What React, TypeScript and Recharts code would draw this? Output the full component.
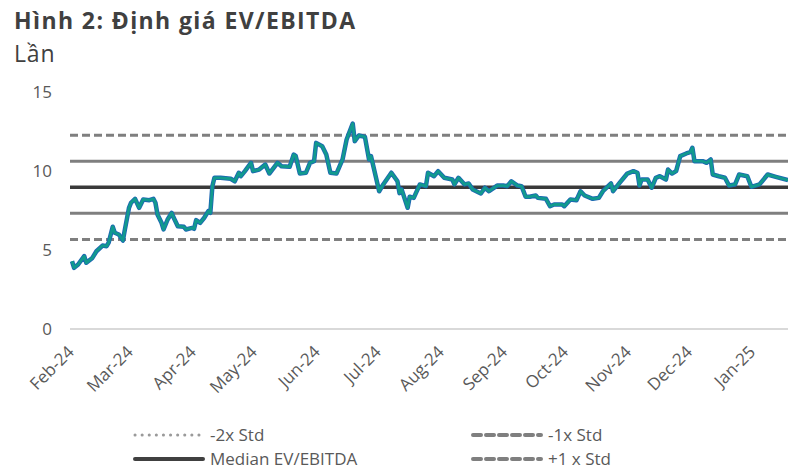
import { LineChart, Line, XAxis, YAxis, ReferenceLine } from "recharts";

const monthLabels = ["Feb-24", "Mar-24", "Apr-24", "May-24", "Jun-24", "Jul-24", "Aug-24", "Sep-24", "Oct-24", "Nov-24", "Dec-24", "Jan-25"];
const monthStarts = ["2024-02-01", "2024-03-01", "2024-04-01", "2024-05-01", "2024-06-01", "2024-07-01", "2024-08-01", "2024-09-01", "2024-10-01", "2024-11-01", "2024-12-01", "2025-01-01"];
const yTicks = [0, 5, 10, 15];

// days since 2024-02-01
const days = [
  0, 1, 3, 6, 7, 10, 12, 15, 17, 18, 20, 21, 23, 25, 26, 28, 29, 31, 33, 35, 38, 40, 41, 42, 44, 45, 47, 49, 50, 52,
  55, 56, 59, 60, 61, 63, 65, 67, 68, 69, 70, 73, 78, 80, 82, 83, 85, 88, 89, 92, 95, 97, 101, 103, 107, 109, 110, 112, 115, 117,
  119, 120, 123, 125, 127, 130, 133, 135, 138, 139, 141, 144, 146, 147, 151, 153, 157, 160, 161, 162, 165, 166, 168, 171, 174, 175, 178, 180, 183, 187,
  188, 190, 193, 195, 197, 201, 203, 205, 209, 212, 214, 216, 219, 221, 223, 225, 228, 229, 233, 235, 237, 241, 242, 245, 248, 250, 252, 256, 259, 261,
  265, 266, 269, 273, 276, 278, 279, 280, 283, 285, 287, 289, 292, 293, 295, 297, 299, 302, 304, 305, 306, 310, 312, 314, 315, 318, 321, 323, 326, 328,
  332, 334, 338, 342, 346, 352,
];
const evEbitda = [
  4.29, 3.87, 4.08, 4.61, 4.19, 4.5, 4.92, 5.28, 5.24, 5.46, 6.47, 6.09, 5.98, 5.6, 6.3, 7.67, 7.99, 8.24, 7.67, 8.2, 8.15, 8.24, 7.99, 7.25, 6.72, 6.3, 6.93, 7.35, 7.04, 6.51,
  6.47, 6.3, 6.4, 6.34, 6.89, 6.72, 7.04, 7.46, 7.35, 9.04, 9.57, 9.57, 9.51, 9.35, 9.89, 9.67, 9.99, 10.52, 9.99, 10.09, 10.41, 9.84, 10.52, 10.3, 10.27, 11.04, 10.94, 9.84, 9.89, 10.52,
  10.62, 11.78, 11.57, 11.04, 9.89, 9.84, 10.73, 11.99, 13.0, 11.89, 12.25, 12.16, 10.73, 10.94, 8.72, 9.15, 9.89, 9.35, 8.6, 8.85, 7.67, 8.37, 8.3, 9.15, 9.04, 9.89, 9.67, 9.99, 9.57, 9.46,
  9.15, 9.57, 9.15, 9.21, 8.83, 8.58, 8.94, 8.72, 9.08, 9.08, 9.04, 9.35, 9.08, 9.04, 8.37, 8.37, 8.45, 8.3, 8.24, 7.77, 7.88, 7.88, 7.77, 8.2, 8.15, 8.72, 8.45, 8.24, 8.3, 8.72,
  9.21, 8.72, 9.21, 9.84, 9.99, 9.89, 9.08, 9.46, 9.46, 8.94, 9.57, 9.67, 9.46, 10.09, 9.84, 9.99, 10.94, 11.11, 11.19, 11.47, 10.62, 10.62, 10.52, 10.73, 9.78, 9.67, 9.57, 9.08, 9.15, 9.78,
  9.67, 9.0, 9.15, 9.78, 9.63, 9.42,
];

const MEDIAN = 8.97;
const STD = 1.65;

const DAY = 86400000;
const BASE = Date.parse("2024-02-01");
const tickDays = monthStarts.map((s) => Math.round((Date.parse(s) - BASE) / DAY));
const rows = days.map((d, i) => ({ d, v: evEbitda[i] }));

const FONT = "'Open Sans', Lato, sans-serif";
const GREY = "#7f7f7f";

function MonthTick({ x, y, payload }: any) {
  const i = tickDays.indexOf(payload.value);
  return (
    <g transform={`translate(${x + 3},${y + 22}) rotate(-45)`}>
      <text textAnchor="end" fill="#595959" fontSize={17} fontFamily={FONT}>
        {monthLabels[i]}
      </text>
    </g>
  );
}

function LegendItem({ left, top, label, dash, color, width }: any) {
  return (
    <div style={{ position: "absolute", left, top, display: "flex", alignItems: "center", whiteSpace: "nowrap", lineHeight: "16px" }}>
      <svg width={72} height={8} style={{ marginRight: 5 }}>
        <line x1={2} y1={4} x2={70} y2={4} stroke={color} strokeWidth={width} strokeDasharray={dash} strokeLinecap="round" />
      </svg>
      <span>{label}</span>
    </div>
  );
}

export default function App() {
  return (
    <div style={{ position: "absolute", left: 0, top: 0, width: 788, height: 470, background: "#fff", fontFamily: FONT, color: "#404040" }}>
      <div style={{ position: "absolute", left: 14, top: 4, fontSize: 23, fontWeight: 700, letterSpacing: 1.4, whiteSpace: "nowrap" }}>
        Hình 2: Định giá EV/EBITDA
      </div>
      <div style={{ position: "absolute", left: 14, top: 37, fontSize: 23, letterSpacing: 0.8, whiteSpace: "nowrap" }}>Lần</div>

      <div style={{ position: "absolute", left: 0, top: 0 }}>
        <LineChart width={788} height={470} data={rows} margin={{ top: 92, right: 0, bottom: 100, left: 0 }}>
          <XAxis
            dataKey="d"
            type="number"
            domain={[-1, 352]}
            ticks={tickDays}
            interval={0}
            height={41}
            tickLine={false}
            tickSize={0}
            axisLine={{ stroke: "#d9d9d9", strokeWidth: 2 }}
            tick={<MonthTick />}
          />
          <YAxis
            domain={[0, 15]}
            ticks={yTicks}
            width={70}
            axisLine={false}
            tickLine={false}
            tickSize={0}
            tickMargin={18}
            tick={{ fill: "#595959", fontSize: 17, fontFamily: FONT }}
          />
          <ReferenceLine y={MEDIAN + 2 * STD} stroke={GREY} strokeWidth={3} strokeDasharray="8 4" />
          <ReferenceLine y={MEDIAN + STD} stroke={GREY} strokeWidth={3} />
          <ReferenceLine y={MEDIAN} stroke="#3a3a3a" strokeWidth={3.5} />
          <ReferenceLine y={MEDIAN - STD} stroke={GREY} strokeWidth={3} />
          <ReferenceLine y={MEDIAN - 2 * STD} stroke={GREY} strokeWidth={3} strokeDasharray="8 4" />
          <Line dataKey="v" stroke="#1d66b3" strokeWidth={4.5} dot={false} isAnimationActive={false} strokeLinejoin="round" />
          <Line dataKey="v" stroke="#119a8e" strokeWidth={2.8} dot={false} isAnimationActive={false} strokeLinejoin="round" />
        </LineChart>
      </div>

      <div style={{ position: "absolute", left: 0, top: 0, fontSize: 17, color: "#595959" }}>
        <LegendItem left={133} top={427} label="-2x Std" dash="0.1 7" color="#9a9a9a" width={3} />
        <LegendItem left={133} top={451} label="Median EV/EBITDA" color="#404040" width={4} />
        <LegendItem left={471} top={427} label="-1x Std" dash="8 5" color={GREY} width={4} />
        <LegendItem left={471} top={451} label="+1 x Std" dash="8 5" color={GREY} width={4} />
      </div>
    </div>
  );
}
